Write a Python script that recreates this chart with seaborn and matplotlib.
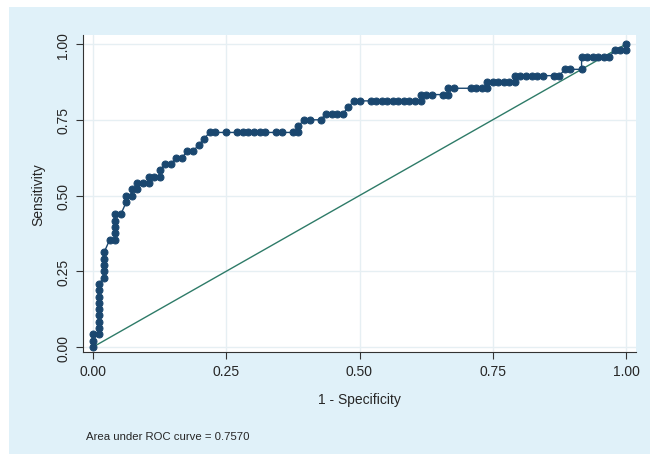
import numpy as np
import pandas as pd
import seaborn as sns
import matplotlib.pyplot as plt
from matplotlib.patches import Rectangle

sns.set_theme(style='white')
plt.rcParams['font.family'] = ['Liberation Sans', 'DejaVu Sans']

# counts (false positives out of n_neg, true positives out of n_pos)
n_neg = 96
n_pos = 48
fp_count = [0, 0, 0,
            1, 1, 1, 1, 1, 1, 1, 1, 1,
            2, 2, 2, 2, 2,
            3,
            4, 4, 4, 4, 4,
            5,
            6, 6, 7, 7, 8, 8, 9,
            10, 10, 11, 12,
            12, 13, 14,
            15, 16,
            17, 18,
            19,
            20,
            21, 22, 24, 26, 27, 28, 29, 30, 31, 33, 34, 36, 37,
            37,
            38, 39, 41,
            42, 43, 44, 45,
            46,
            47, 48, 50, 51, 52, 53, 54, 55, 56, 57, 58, 59,
            59, 60, 61, 63, 64,
            64, 65, 68, 69, 70, 71,
            71, 72, 73, 74, 75, 76,
            76, 77, 78, 79, 80, 81, 83, 84,
            85, 86, 88,
            88, 89, 90, 91, 92, 93,
            94, 95, 96,
            96]
tp_count = [0, 1, 2,
            2, 3, 4, 5, 6, 7, 8, 9, 10,
            11, 12, 13, 14, 15,
            17,
            17, 18, 19, 20, 21,
            21,
            23, 24, 24, 25, 25, 26, 26,
            26, 27, 27, 27,
            28, 29, 29,
            30, 30,
            31, 31,
            32,
            33,
            34, 34, 34, 34, 34, 34, 34, 34, 34, 34, 34, 34, 34,
            35,
            36, 36, 36,
            37, 37, 37, 37,
            38,
            39, 39, 39, 39, 39, 39, 39, 39, 39, 39, 39, 39,
            40, 40, 40, 40, 40,
            41, 41, 41, 41, 41, 41,
            42, 42, 42, 42, 42, 42,
            43, 43, 43, 43, 43, 43, 43, 43,
            44, 44, 44,
            46, 46, 46, 46, 46, 46,
            47, 47, 47,
            48]
auc_text = 'Area under ROC curve = 0.7570'
ticks = [0, 0.25, 0.5, 0.75, 1.0]
tick_labels = ['0.00', '0.25', '0.50', '0.75', '1.00']

roc = pd.DataFrame({'fpr': np.array(fp_count) / n_neg,
                    'tpr': np.array(tp_count) / n_pos})

navy = '#1a476f'
fig = plt.figure(figsize=(6.57, 4.6), dpi=100)
fig.patch.set_facecolor('white')
# light blue graph region, like Stata
fig.patches.append(Rectangle((9 / 657, 5 / 460), 641 / 657, 447 / 460,
                             transform=fig.transFigure, facecolor='#e0f1f9',
                             edgecolor='none', zorder=-1))

ax = fig.add_axes([83 / 657, 107 / 460, 553 / 657, 317 / 460])
ax.set_facecolor('white')

for t in ticks:
    ax.axhline(t, color='#e6eff3', lw=1, zorder=0)
    ax.axvline(t, color='#e6eff3', lw=1, zorder=0)

sns.lineplot(x=[0, 1], y=[0, 1], color='#2e7b68', lw=1, ax=ax)
sns.lineplot(data=roc, x='fpr', y='tpr', sort=False, estimator=None,
             color=navy, lw=1, marker='o', markersize=5,
             markeredgecolor=navy, markerfacecolor=navy, ax=ax)

ax.set_xlim(-0.0188, 1.0188)
ax.set_ylim(-0.0165, 1.03)
ax.set_xticks(ticks)
ax.set_xticklabels(tick_labels, fontsize=10)
ax.set_yticks(ticks)
ax.set_yticklabels(tick_labels, fontsize=10, rotation=90, va='center')
ax.tick_params(axis='both', length=5, width=0.8, color='#333333', pad=4,
               bottom=True, left=True)
ax.set_xlabel('1 - Specificity', fontsize=10, labelpad=10)
ax.set_ylabel('Sensitivity', fontsize=10, labelpad=8)
for side in ['top', 'right']:
    ax.spines[side].set_visible(False)
for side in ['left', 'bottom']:
    ax.spines[side].set_color('#333333')
    ax.spines[side].set_linewidth(0.8)

fig.text(86 / 657, 1 - 437 / 460, auc_text, fontsize=8.2, va='center', ha='left')

fig.savefig('out.png', dpi=100)
